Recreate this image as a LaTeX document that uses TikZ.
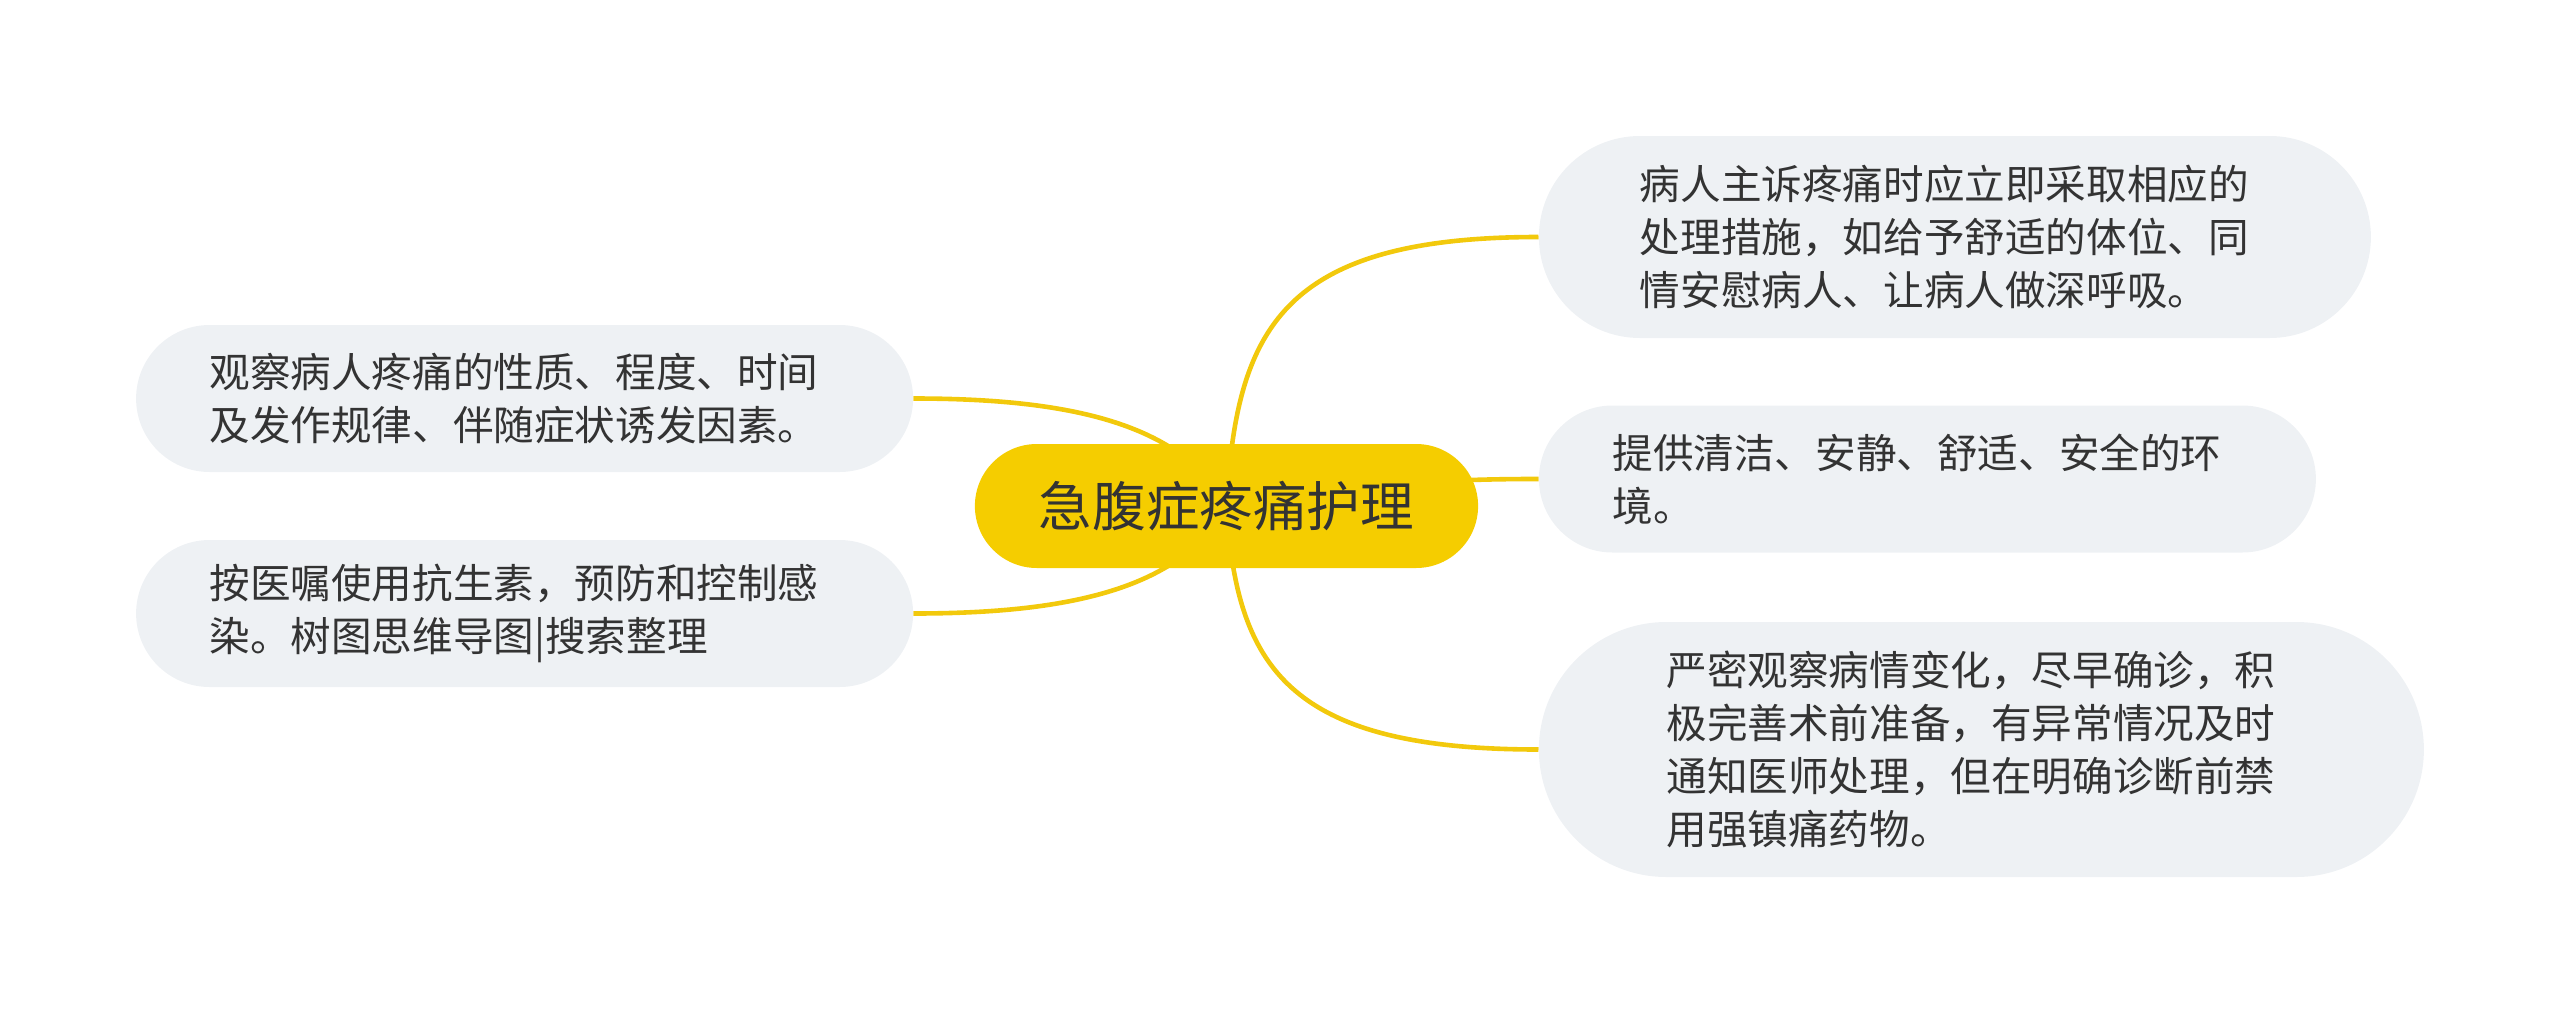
\documentclass[tikz,border=0pt]{standalone}
\usepackage{fontspec}
\newfontfamily\cjk{Noto Sans CJK SC}
\usetikzlibrary{positioning,backgrounds}
\definecolor{rootyellow}{HTML}{F5CD00}
\definecolor{linkyellow}{HTML}{F2C90C}
\definecolor{leafgray}{HTML}{EEF1F4}
\definecolor{inkgray}{HTML}{333333}

\begin{document}
\begin{tikzpicture}[node distance=30pt, root/.style={fill=rootyellow, text=inkgray, minimum height=62pt, inner xsep=32pt, rounded corners=31pt, font=\cjk\fontsize{26.8pt}{32pt}\selectfont}, leaf/.style={fill=leafgray, text=inkgray, text width=315pt, align=left, minimum height=2*#1, inner xsep=#1, rounded corners=#1, font=\cjk\fontsize{20.3pt}{26.5pt}\selectfont}, leaf/.default=36.75pt, link/.style={draw=linkyellow, line width=2.3pt}]
\useasboundingbox (-613.25pt,-254pt) rectangle (666.75pt,253pt);
\node[root] (root) {急腹症疼痛护理};
% right side
\node[leaf=50.5pt, right=30pt of root, yshift=134.5pt] (care) {病人主诉疼痛时应立即采取相应的\\处理措施，如给予舒适的体位、同\\情安慰病人、让病人做深呼吸。};
\node[leaf, right=30pt of root, yshift=13.5pt] (env) {提供清洁、安静、舒适、安全的环\\境。};
\node[leaf=63.75pt, right=30pt of root, yshift=-121.75pt] (watch) {严密观察病情变化，尽早确诊，积\\极完善术前准备，有异常情况及时\\通知医师处理，但在明确诊断前禁\\用强镇痛药物。};
% left side
\node[leaf, left=30.5pt of root, yshift=53.75pt] (observe) {观察病人疼痛的性质、程度、时间\\及发作规律、伴随症状诱发因素。};
\node[leaf, left=30.5pt of root, yshift=-53.75pt] (drug) {按医嘱使用抗生素，预防和控制感\\染。树图思维导图|搜索整理};
\begin{scope}[on background layer]
\draw[link] (root.center) .. controls +(5pt,88pt) and +(-129pt,0pt) .. (care.west);
\draw[link] (root.center) .. controls +(70pt,13.5pt) and +(-20pt,0pt) .. (env.west);
\draw[link] (root.center) .. controls +(5pt,-80pt) and +(-126pt,0pt) .. (watch.west);
\draw[link] (root.center) .. controls +(-23pt,43pt) and +(73pt,0pt) .. (observe.east);
\draw[link] (root.center) .. controls +(-23pt,-43pt) and +(73pt,0pt) .. (drug.east);
\end{scope}
\end{tikzpicture}
\end{document}
